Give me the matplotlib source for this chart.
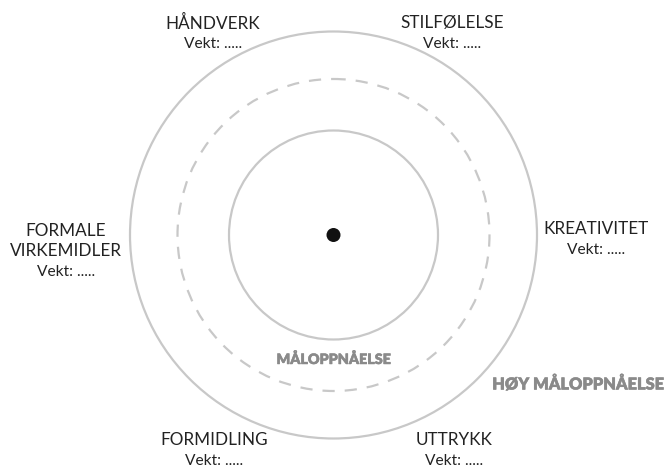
import matplotlib
matplotlib.use("Agg")
import matplotlib.pyplot as plt
from matplotlib.patches import Circle
import matplotlib.patheffects as pe

# ---- data ----
criteria = ["HÅNDVERK", "STILFØLELSE", "KREATIVITET", "UTTRYKK", "FORMIDLING", "FORMALE\nVIRKEMIDLER"]
weight_label = "Vekt: ....."
ring_levels = [104.5, 156, 203.5]          # inner, dashed, outer ring radius (px)
ring_styles = ["solid", "dashed", "solid"]
ring_names = ["MÅLOPPNÅELSE", "HØY MÅLOPPNÅELSE"]

# ---- layout ----
W, H = 669, 467
cx, cy = 333.5, 235
label_pos = {
    "HÅNDVERK": (213, 23),
    "STILFØLELSE": (452, 23),
    "KREATIVITET": (596, 229),
    "UTTRYKK": (454, 440),
    "FORMIDLING": (214, 440),
    "FORMALE\nVIRKEMIDLER": (66, 241),
}
FONT = "Lato"
txt_color = "#222222"
ring_color = "#c8c8c8"
name_color = "#8a8a8a"

fig = plt.figure(figsize=(W / 100, H / 100), dpi=100)
ax = fig.add_axes([0, 0, 1, 1])
ax.set_xlim(0, W)
ax.set_ylim(H, 0)
ax.set_aspect("equal")
ax.axis("off")

for r, ls in zip(ring_levels, ring_styles):
    style = (0, (5.5, 4.5)) if ls == "dashed" else "solid"
    ax.add_patch(Circle((cx, cy), r, fill=False, edgecolor=ring_color,
                        linewidth=1.6, linestyle=style))

ax.add_patch(Circle((cx, cy), 7, facecolor="#111111", edgecolor="none"))

for name in criteria:
    x, y = label_pos[name]
    nlines = name.count("\n") + 1
    ax.text(x, y, name, ha="center", va="center", fontsize=12.3,
            family=FONT, color=txt_color, linespacing=1.25)
    vy = y + 10.5 * (nlines - 1) + 21
    ax.text(x, vy, weight_label, ha="center", va="center", fontsize=11.2,
            family=FONT, color=txt_color)

heavy = [pe.withStroke(linewidth=0.35, foreground=name_color)]
ax.text(cx, 358.5, ring_names[0], ha="center", va="center", fontsize=10.3,
        family=FONT, fontweight="heavy", color=name_color, path_effects=heavy)
ax.text(578, 384, ring_names[1], ha="center", va="center", fontsize=11.8,
        family=FONT, fontweight="heavy", color=name_color, path_effects=heavy)

fig.savefig("out.png", dpi=100)
